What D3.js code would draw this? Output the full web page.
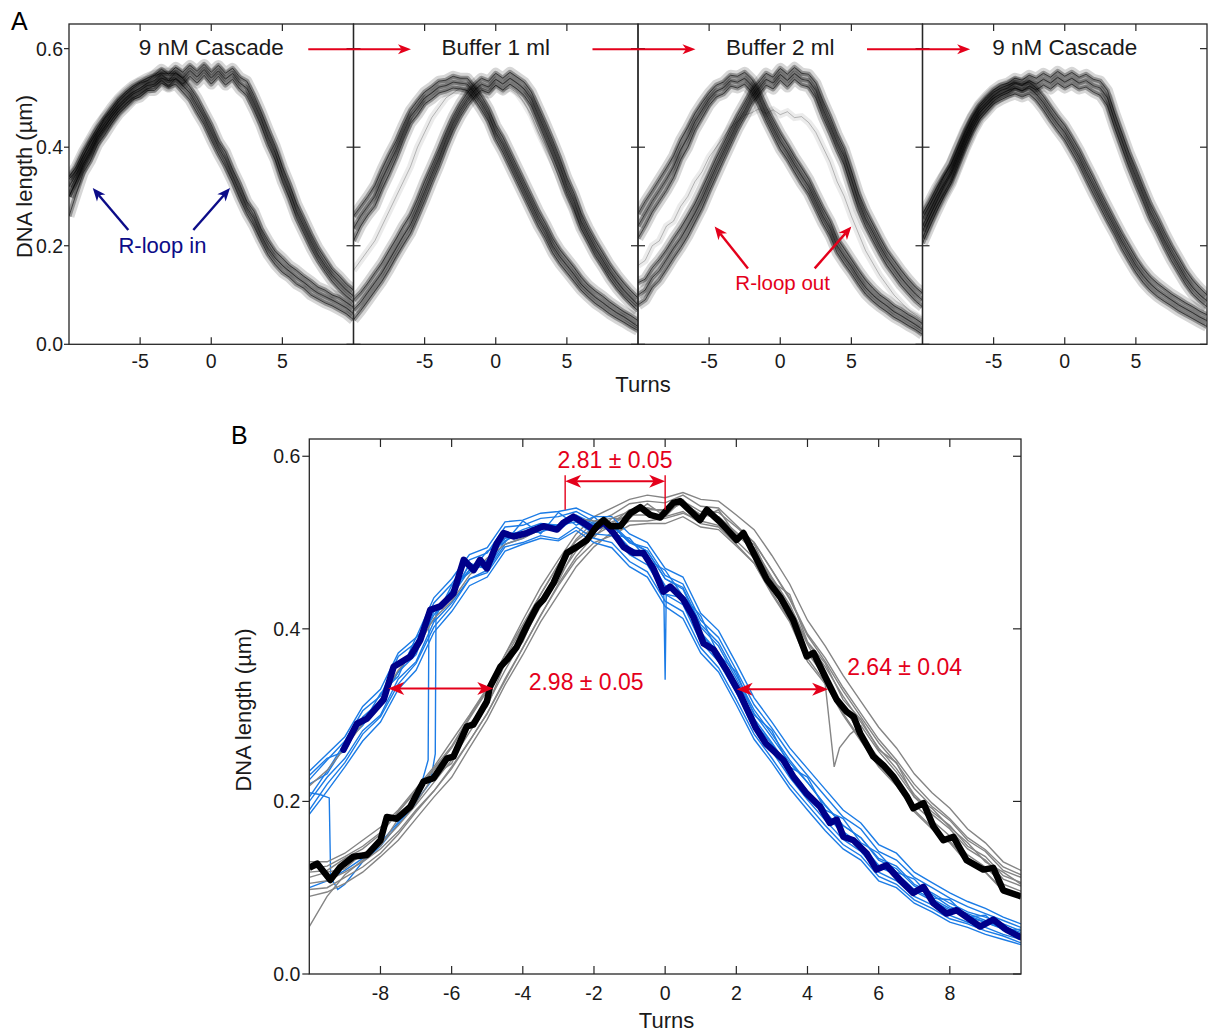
<!DOCTYPE html>
<html><head><meta charset="utf-8">
<script src="https://cdn.jsdelivr.net/npm/d3@7"></script>
<style>body{margin:0;background:#fff}svg{display:block}</style>
</head><body><svg id="chart" width="1208" height="1032"></svg>
<script>
// ---------------- DATA ----------------
const turnsGrid = [-10,-9.5,-9,-8.5,-8,-7.5,-7,-6.5,-6,-5.5,-5,-4.5,-4,-3.5,-3,-2.5,-2,-1.5,-1,-0.5,0,0.5,1,1.5,2,2.5,3,3.5,4,4.5,5,5.5,6,6.5,7,7.5,8,8.5,9,9.5,10];

const panelATitles = ["9 nM Cascade","Buffer 1 ml","Buffer 2 ml","9 nM Cascade"];
const panelAXTicks = [-5,0,5];
const panelAXTickLabels = ["-5","0","5"];
const panelAYTicks = [0,0.2,0.4,0.6];
const panelAYTickLabels = ["0.0","0.2","0.4","0.6"];
const panelBXTicks = [-8,-6,-4,-2,0,2,4,6,8];
const panelBXTickLabels = ["-8","-6","-4","-2","0","2","4","6","8"];
const panelBYTicks = [0,0.2,0.4,0.6];
const panelBYTickLabels = ["0.0","0.2","0.4","0.6"];

// Panel A, subplot 1 (9 nM Cascade)
const a1LoopTraces = [
 [0.335,0.352,0.382,0.41,0.432,0.458,0.474,0.494,0.508,0.52,0.53,0.535,0.545,0.55,0.55,0.55,0.54,0.522,0.5,0.472,0.445,0.412,0.39,0.355,0.325,0.29,0.27,0.235,0.21,0.188,0.175,0.16,0.15,0.138,0.128,0.116,0.11,0.1,0.095,0.085,0.075],
 [0.300,0.330,0.365,0.390,0.420,0.440,0.462,0.480,0.495,0.508,0.515,0.525,0.528,0.540,0.535,0.538,0.525,0.510,0.485,0.460,0.430,0.400,0.375,0.342,0.310,0.278,0.255,0.222,0.195,0.175,0.160,0.148,0.136,0.126,0.114,0.104,0.097,0.090,0.082,0.074,0.062],
 [0.26,0.305,0.348,0.372,0.405,0.425,0.448,0.468,0.482,0.497,0.502,0.515,0.515,0.53,0.522,0.528,0.512,0.496,0.47,0.446,0.415,0.386,0.36,0.33,0.296,0.265,0.24,0.21,0.182,0.162,0.146,0.136,0.122,0.114,0.1,0.092,0.084,0.078,0.07,0.062,0.05]
];
const a1FreeTraces = [
 [0.34,0.36,0.39,0.415,0.44,0.46,0.48,0.498,0.512,0.524,0.532,0.54,0.546,0.558,0.548,0.562,0.552,0.566,0.554,0.568,0.552,0.566,0.55,0.56,0.542,0.534,0.505,0.472,0.436,0.402,0.36,0.325,0.285,0.255,0.224,0.196,0.174,0.152,0.138,0.122,0.11],
 [0.32,0.345,0.375,0.40,0.428,0.448,0.468,0.486,0.50,0.512,0.52,0.53,0.535,0.548,0.535,0.552,0.54,0.556,0.542,0.558,0.54,0.555,0.538,0.55,0.53,0.52,0.49,0.458,0.42,0.388,0.345,0.31,0.27,0.24,0.21,0.182,0.16,0.14,0.125,0.11,0.098],
 [0.3,0.33,0.36,0.386,0.415,0.436,0.455,0.474,0.488,0.5,0.508,0.518,0.524,0.536,0.524,0.54,0.528,0.544,0.53,0.546,0.528,0.544,0.526,0.538,0.518,0.505,0.476,0.444,0.405,0.374,0.33,0.296,0.256,0.226,0.196,0.17,0.148,0.128,0.112,0.098,0.086]
];
const a1ExtraTraces = [];

// Panel A, subplot 2 (Buffer 1 ml)
const a2LoopTraces = [
 [0.26,0.28,0.3,0.322,0.355,0.385,0.412,0.445,0.475,0.494,0.512,0.522,0.534,0.536,0.544,0.54,0.54,0.522,0.503,0.478,0.444,0.42,0.39,0.36,0.33,0.3,0.27,0.244,0.215,0.192,0.174,0.156,0.136,0.12,0.108,0.098,0.086,0.076,0.066,0.058,0.048],
 [0.235,0.26,0.28,0.3,0.335,0.365,0.395,0.43,0.462,0.48,0.5,0.51,0.522,0.525,0.532,0.53,0.528,0.51,0.49,0.465,0.43,0.405,0.375,0.345,0.315,0.285,0.255,0.23,0.2,0.178,0.16,0.142,0.122,0.108,0.095,0.085,0.074,0.064,0.056,0.046,0.036],
 [0.21,0.24,0.262,0.28,0.315,0.345,0.378,0.415,0.448,0.466,0.488,0.498,0.51,0.514,0.52,0.518,0.515,0.498,0.476,0.452,0.416,0.39,0.36,0.33,0.3,0.27,0.24,0.215,0.186,0.164,0.146,0.128,0.11,0.096,0.083,0.073,0.062,0.053,0.045,0.036,0.028]
];
const a2FreeTraces = [
 [0.09,0.105,0.124,0.145,0.165,0.19,0.214,0.24,0.262,0.294,0.33,0.362,0.395,0.43,0.462,0.488,0.51,0.527,0.54,0.534,0.55,0.54,0.552,0.542,0.532,0.512,0.48,0.448,0.414,0.378,0.338,0.306,0.266,0.236,0.21,0.186,0.162,0.142,0.124,0.108,0.094],
 [0.07,0.085,0.105,0.125,0.145,0.17,0.195,0.22,0.242,0.275,0.31,0.345,0.378,0.415,0.448,0.475,0.497,0.515,0.528,0.522,0.538,0.528,0.54,0.53,0.518,0.498,0.465,0.432,0.398,0.362,0.322,0.29,0.25,0.222,0.195,0.172,0.148,0.128,0.11,0.095,0.08],
 [0.05,0.068,0.088,0.108,0.128,0.152,0.178,0.202,0.225,0.258,0.292,0.328,0.362,0.4,0.434,0.462,0.485,0.503,0.516,0.51,0.526,0.516,0.528,0.518,0.505,0.484,0.45,0.416,0.382,0.346,0.306,0.274,0.235,0.208,0.18,0.158,0.134,0.114,0.097,0.082,0.068]
];
const a2ExtraTraces = [
 [0.15,0.17,0.19,0.21,0.24,0.27,0.3,0.33,0.36,0.4,0.43,0.46,0.48,0.5,0.51,0.52,0.515,0.52,0.52,0.515,0.525,0.515,0.52,0.51,0.49,0.465,0.43,0.4,0.37,0.335,0.3,0.27,0.235,0.21,0.185,0.16,0.14,0.12,0.1,0.088,0.075]
];

// Panel A, subplot 3 (Buffer 2 ml)
const a3LoopTraces = [
 [0.265,0.29,0.312,0.335,0.358,0.382,0.415,0.44,0.468,0.49,0.51,0.526,0.532,0.546,0.544,0.552,0.538,0.514,0.482,0.455,0.428,0.405,0.38,0.358,0.335,0.305,0.276,0.25,0.215,0.194,0.172,0.15,0.13,0.114,0.1,0.09,0.078,0.07,0.06,0.052,0.042],
 [0.24,0.265,0.29,0.312,0.335,0.36,0.395,0.42,0.452,0.475,0.498,0.514,0.52,0.535,0.532,0.54,0.525,0.5,0.468,0.44,0.412,0.39,0.365,0.342,0.32,0.29,0.26,0.235,0.2,0.178,0.158,0.135,0.115,0.1,0.088,0.078,0.066,0.058,0.049,0.04,0.03],
 [0.215,0.24,0.268,0.29,0.312,0.338,0.375,0.4,0.435,0.46,0.485,0.502,0.508,0.524,0.52,0.528,0.512,0.486,0.454,0.425,0.396,0.375,0.35,0.326,0.305,0.275,0.245,0.22,0.186,0.164,0.144,0.122,0.102,0.088,0.076,0.066,0.055,0.047,0.038,0.03,0.02]
];
const a3FreeTraces = [
 [0.125,0.132,0.155,0.172,0.192,0.215,0.236,0.26,0.285,0.315,0.346,0.378,0.406,0.436,0.465,0.49,0.516,0.532,0.55,0.542,0.56,0.548,0.562,0.55,0.548,0.53,0.494,0.462,0.426,0.396,0.352,0.306,0.272,0.244,0.216,0.19,0.17,0.15,0.132,0.116,0.104],
 [0.1,0.11,0.135,0.15,0.172,0.195,0.215,0.24,0.266,0.295,0.328,0.36,0.39,0.42,0.45,0.475,0.503,0.52,0.538,0.53,0.548,0.535,0.55,0.538,0.535,0.515,0.478,0.445,0.41,0.38,0.335,0.29,0.255,0.228,0.2,0.175,0.155,0.135,0.118,0.102,0.09],
 [0.08,0.09,0.115,0.13,0.152,0.175,0.196,0.22,0.248,0.276,0.31,0.342,0.374,0.405,0.436,0.462,0.49,0.508,0.526,0.518,0.536,0.522,0.538,0.526,0.522,0.5,0.462,0.43,0.395,0.364,0.318,0.274,0.24,0.212,0.185,0.16,0.14,0.12,0.104,0.088,0.076]
];
const a3ExtraTraces = [
 [0.16,0.17,0.2,0.21,0.24,0.25,0.28,0.3,0.33,0.35,0.38,0.4,0.42,0.44,0.452,0.465,0.47,0.478,0.468,0.476,0.466,0.472,0.46,0.462,0.45,0.43,0.4,0.37,0.33,0.3,0.26,0.225,0.19,0.165,0.14,0.12,0.1,0.085,0.07,0.06,0.05]
];

// Panel A, subplot 4 (9 nM Cascade)
const a4LoopTraces = [
 [0.255,0.282,0.31,0.34,0.364,0.398,0.43,0.46,0.482,0.498,0.512,0.52,0.526,0.532,0.528,0.532,0.52,0.503,0.482,0.462,0.444,0.42,0.395,0.366,0.338,0.308,0.28,0.252,0.225,0.2,0.175,0.154,0.137,0.124,0.113,0.102,0.093,0.084,0.076,0.067,0.06],
 [0.23,0.26,0.29,0.32,0.345,0.38,0.415,0.445,0.47,0.485,0.5,0.508,0.515,0.52,0.515,0.52,0.508,0.49,0.468,0.448,0.43,0.405,0.38,0.35,0.322,0.293,0.265,0.238,0.21,0.185,0.16,0.14,0.123,0.11,0.1,0.09,0.08,0.072,0.064,0.055,0.048],
 [0.205,0.238,0.27,0.3,0.326,0.362,0.398,0.43,0.456,0.472,0.488,0.496,0.503,0.508,0.502,0.508,0.495,0.476,0.454,0.434,0.415,0.39,0.365,0.335,0.306,0.278,0.25,0.224,0.195,0.17,0.146,0.126,0.11,0.097,0.087,0.078,0.068,0.06,0.052,0.044,0.036]
];
const a4FreeTraces = [
 [0.265,0.29,0.318,0.342,0.366,0.4,0.434,0.462,0.486,0.502,0.516,0.526,0.53,0.54,0.536,0.546,0.54,0.55,0.542,0.554,0.544,0.552,0.542,0.548,0.538,0.534,0.515,0.47,0.43,0.39,0.356,0.32,0.286,0.258,0.228,0.2,0.175,0.15,0.13,0.114,0.1],
 [0.24,0.27,0.3,0.325,0.35,0.385,0.42,0.45,0.475,0.49,0.505,0.515,0.52,0.53,0.525,0.535,0.528,0.538,0.53,0.542,0.532,0.54,0.53,0.535,0.525,0.52,0.5,0.455,0.415,0.375,0.34,0.305,0.27,0.242,0.212,0.185,0.16,0.135,0.115,0.1,0.088],
 [0.215,0.25,0.28,0.306,0.332,0.368,0.404,0.436,0.462,0.478,0.494,0.504,0.51,0.52,0.514,0.524,0.516,0.526,0.518,0.53,0.52,0.528,0.518,0.522,0.512,0.505,0.484,0.44,0.4,0.36,0.324,0.29,0.255,0.228,0.198,0.17,0.146,0.122,0.102,0.088,0.076]
];
const a4ExtraTraces = [];

// Panel B: individual traces without R-loop (grey), on turnsGrid
const bGreyTraces = [
 [0.122,0.125,0.136,0.148,0.164,0.188,0.212,0.236,0.262,0.296,0.328,0.366,0.402,0.44,0.474,0.504,0.524,0.532,0.545,0.548,0.546,0.555,0.542,0.54,0.52,0.5,0.468,0.434,0.392,0.362,0.328,0.298,0.268,0.244,0.215,0.194,0.178,0.155,0.142,0.12,0.112],
 [0.098,0.1,0.112,0.124,0.14,0.162,0.188,0.212,0.238,0.27,0.302,0.342,0.378,0.416,0.45,0.48,0.5,0.508,0.52,0.522,0.522,0.53,0.518,0.515,0.496,0.476,0.442,0.41,0.366,0.338,0.302,0.272,0.242,0.22,0.19,0.17,0.154,0.13,0.118,0.096,0.088],
 [0.105,0.108,0.118,0.13,0.145,0.165,0.19,0.212,0.24,0.27,0.302,0.34,0.378,0.415,0.452,0.484,0.508,0.52,0.535,0.538,0.538,0.548,0.536,0.535,0.518,0.5,0.468,0.436,0.394,0.366,0.332,0.302,0.272,0.248,0.22,0.198,0.18,0.158,0.144,0.124,0.115],
 [0.118,0.12,0.134,0.145,0.162,0.188,0.212,0.238,0.264,0.298,0.33,0.37,0.405,0.44,0.475,0.502,0.518,0.524,0.532,0.532,0.53,0.536,0.522,0.518,0.498,0.476,0.44,0.408,0.362,0.336,0.3,0.27,0.24,0.218,0.188,0.168,0.152,0.128,0.118,0.098,0.09],
 [0.055,0.09,0.115,0.132,0.15,0.172,0.196,0.222,0.248,0.28,0.312,0.352,0.388,0.426,0.46,0.49,0.514,0.522,0.538,0.54,0.536,0.546,0.532,0.53,0.512,0.494,0.46,0.428,0.384,0.356,0.322,0.292,0.262,0.238,0.208,0.188,0.172,0.148,0.136,0.114,0.106],
 [0.13,0.13,0.14,0.155,0.17,0.19,0.215,0.24,0.27,0.3,0.332,0.37,0.41,0.448,0.48,0.51,0.53,0.54,0.55,0.555,0.552,0.558,0.55,0.548,0.532,0.515,0.485,0.452,0.41,0.38,0.346,0.316,0.286,0.262,0.232,0.21,0.192,0.168,0.152,0.13,0.12],
 [0.09,0.095,0.105,0.118,0.136,0.155,0.18,0.205,0.228,0.262,0.295,0.335,0.37,0.408,0.44,0.472,0.495,0.512,0.525,0.525,0.528,0.534,0.525,0.52,0.502,0.482,0.45,0.415,0.372,0.344,0.31,0.278,0.25,0.226,0.196,0.178,0.16,0.138,0.124,0.104,0.096],
 [0.112,0.118,0.122,0.14,0.148,0.18,0.198,0.23,0.244,0.29,0.31,0.36,0.385,0.432,0.455,0.496,0.506,0.528,0.528,0.545,0.53,0.55,0.528,0.538,0.508,0.498,0.455,0.44,0.385,0.36,0.318,0.295,0.26,0.245,0.205,0.192,0.17,0.152,0.13,0.118,0.104]
];
// Panel B: individual traces with R-loop (blue), on turnsGrid
const bBlueTraces = [
 [0.225,0.248,0.27,0.305,0.322,0.368,0.384,0.43,0.452,0.48,0.488,0.518,0.52,0.528,0.53,0.536,0.524,0.522,0.502,0.49,0.458,0.446,0.402,0.38,0.342,0.302,0.274,0.245,0.222,0.195,0.172,0.158,0.134,0.125,0.104,0.094,0.082,0.072,0.066,0.058,0.05],
 [0.2,0.228,0.25,0.282,0.3,0.342,0.362,0.408,0.43,0.458,0.465,0.495,0.5,0.508,0.504,0.518,0.505,0.5,0.478,0.466,0.432,0.42,0.378,0.355,0.318,0.278,0.25,0.22,0.196,0.172,0.15,0.137,0.113,0.104,0.086,0.076,0.064,0.058,0.05,0.044,0.036],
 [0.23,0.25,0.258,0.298,0.316,0.35,0.38,0.416,0.445,0.468,0.48,0.505,0.515,0.522,0.52,0.532,0.522,0.52,0.5,0.494,0.462,0.452,0.41,0.39,0.352,0.312,0.285,0.255,0.23,0.206,0.182,0.168,0.142,0.132,0.112,0.1,0.088,0.078,0.07,0.062,0.054],
 [0.205,0.235,0.268,0.288,0.318,0.35,0.37,0.425,0.435,0.476,0.47,0.502,0.512,0.512,0.52,0.524,0.51,0.508,0.486,0.474,0.44,0.428,0.385,0.362,0.326,0.284,0.258,0.228,0.202,0.178,0.156,0.142,0.118,0.108,0.09,0.08,0.068,0.06,0.054,0.046,0.04],
 [0.19,0.22,0.245,0.278,0.298,0.336,0.36,0.402,0.426,0.458,0.468,0.498,0.505,0.516,0.514,0.53,0.52,0.52,0.5,0.49,0.458,0.448,0.405,0.384,0.346,0.306,0.278,0.248,0.222,0.196,0.172,0.158,0.132,0.122,0.102,0.092,0.078,0.07,0.062,0.055,0.048],
 [0.235,0.255,0.275,0.31,0.33,0.372,0.39,0.436,0.458,0.486,0.494,0.524,0.526,0.534,0.536,0.54,0.53,0.53,0.51,0.5,0.47,0.46,0.418,0.398,0.36,0.32,0.292,0.262,0.238,0.214,0.19,0.175,0.15,0.14,0.118,0.106,0.094,0.084,0.076,0.066,0.058],
 [0.185,0.212,0.24,0.27,0.292,0.33,0.352,0.396,0.42,0.45,0.46,0.49,0.498,0.505,0.502,0.514,0.5,0.494,0.472,0.46,0.426,0.412,0.372,0.35,0.312,0.272,0.245,0.215,0.19,0.166,0.145,0.132,0.108,0.1,0.082,0.072,0.06,0.054,0.046,0.04,0.034],
 [0.22,0.232,0.265,0.29,0.325,0.345,0.39,0.41,0.45,0.465,0.49,0.5,0.525,0.51,0.535,0.52,0.53,0.51,0.505,0.48,0.468,0.438,0.415,0.37,0.35,0.3,0.282,0.24,0.228,0.19,0.18,0.152,0.14,0.118,0.11,0.088,0.086,0.066,0.068,0.05,0.052]
];
// Panel B: irregular traces as [turns, length] pairs
const bBlueJumpTraceA = [[-10,0.21],[-9.7,0.208],[-9.44,0.204],[-9.4,0.112],[-9.2,0.098],[-9,0.104],[-8.5,0.13],[-8,0.148],[-7.5,0.174],[-7,0.198],[-6.66,0.248],[-6.64,0.405],[-6.5,0.42],[-6,0.438],[-5.5,0.468],[-5,0.478],[-4.5,0.505],[-4,0.508],[-3.5,0.52],[-3,0.518],[-2.5,0.53],[-2,0.518],[-1.5,0.516],[-1,0.494],[-0.5,0.484],[0,0.45],[0.5,0.438],[1,0.396],[1.5,0.372],[2,0.336],[2.5,0.296],[3,0.268],[3.5,0.238],[4,0.212],[4.5,0.188],[5,0.165],[5.5,0.15],[6,0.126],[6.5,0.117],[7,0.098],[7.5,0.087],[8,0.076],[8.5,0.068],[9,0.06],[9.5,0.053],[10,0.046]];
const bBlueJumpTraceB = [[-10,0.1],[-9.5,0.108],[-9,0.12],[-8.5,0.134],[-8,0.152],[-7.5,0.176],[-7,0.2],[-6.6,0.222],[-6.46,0.255],[-6.44,0.418],[-6,0.44],[-5.5,0.474],[-5,0.47],[-4.5,0.51],[-4,0.512],[-3.5,0.52],[-3,0.52],[-2.5,0.53],[-2,0.52],[-1.5,0.516],[-1,0.49],[-0.5,0.482],[-0.04,0.446],[0,0.341],[0.03,0.44],[0.5,0.436],[1,0.394],[1.5,0.372],[2,0.332],[2.5,0.292],[3,0.266],[3.5,0.236],[4,0.21],[4.5,0.186],[5,0.162],[5.5,0.148],[6,0.124],[6.5,0.115],[7,0.096],[7.5,0.085],[8,0.074],[8.5,0.066],[9,0.06],[9.5,0.052],[10,0.045]];
const bGreyLoopTrace = [[-10,0.218],[-9.5,0.236],[-9,0.262],[-8.5,0.29],[-8,0.318],[-7.5,0.352],[-7,0.376],[-6.5,0.412],[-6,0.432],[-5.5,0.462],[-5,0.482],[-4.5,0.498],[-4,0.505],[-3.5,0.515],[-3,0.518],[-2.5,0.528],[-2,0.525],[-1.5,0.528],[-1,0.536],[-0.5,0.54],[0,0.536],[0.5,0.546],[1,0.532],[1.5,0.53],[2,0.51],[2.5,0.49],[3,0.458],[3.5,0.425],[4,0.382],[4.3,0.36],[4.5,0.335],[4.75,0.24],[4.9,0.262],[5.2,0.278],[5.5,0.288],[6,0.258],[6.5,0.234],[7,0.205],[7.5,0.185],[8,0.168],[8.5,0.145],[9,0.132],[9.5,0.11],[10,0.102]];
// Panel B: averaged traces as [turns, length] pairs
const bGreyMean = [[-10,0.123],[-9.78,0.128],[-9.41,0.109],[-9.13,0.124],[-8.76,0.136],[-8.38,0.138],[-8.0,0.155],[-7.82,0.182],[-7.54,0.18],[-7.16,0.194],[-6.79,0.223],[-6.51,0.227],[-6.13,0.25],[-5.95,0.252],[-5.57,0.287],[-5.39,0.289],[-5.01,0.316],[-4.92,0.333],[-4.63,0.356],[-4.45,0.364],[-4.17,0.379],[-3.89,0.403],[-3.6,0.426],[-3.42,0.434],[-3.14,0.453],[-2.76,0.488],[-2.48,0.495],[-2.2,0.503],[-1.92,0.519],[-1.73,0.526],[-1.54,0.519],[-1.26,0.519],[-0.98,0.534],[-0.7,0.541],[-0.42,0.532],[-0.14,0.529],[0.23,0.546],[0.42,0.548],[0.98,0.526],[1.17,0.538],[1.54,0.524],[2.01,0.503],[2.2,0.511],[2.58,0.48],[2.86,0.457],[3.23,0.437],[3.6,0.41],[3.98,0.368],[4.17,0.372],[4.54,0.341],[4.82,0.318],[5.1,0.304],[5.3,0.298],[5.48,0.279],[5.85,0.252],[6.13,0.242],[6.41,0.229],[6.79,0.206],[6.97,0.192],[7.26,0.198],[7.54,0.171],[7.82,0.155],[8.1,0.159],[8.47,0.132],[8.94,0.121],[9.22,0.123],[9.5,0.097],[10,0.09]];
const bBlueMean = [[-9.04,0.26],[-8.66,0.29],[-8.38,0.296],[-7.91,0.318],[-7.63,0.356],[-7.16,0.368],[-6.88,0.387],[-6.6,0.422],[-6.32,0.426],[-5.95,0.441],[-5.66,0.48],[-5.38,0.468],[-5.2,0.48],[-5.01,0.47],[-4.73,0.499],[-4.54,0.511],[-4.26,0.507],[-3.89,0.511],[-3.42,0.519],[-3.04,0.515],[-2.86,0.523],[-2.58,0.53],[-2.3,0.523],[-2.01,0.515],[-1.73,0.524],[-1.45,0.511],[-1.17,0.495],[-0.89,0.488],[-0.61,0.488],[-0.33,0.47],[-0.05,0.443],[0.14,0.449],[0.51,0.434],[0.79,0.414],[1.08,0.383],[1.36,0.376],[1.73,0.352],[2.11,0.324],[2.55,0.285],[2.83,0.267],[3.32,0.248],[3.6,0.229],[3.98,0.209],[4.35,0.194],[4.63,0.175],[4.82,0.179],[5.01,0.159],[5.29,0.155],[5.66,0.14],[5.94,0.121],[6.22,0.126],[6.6,0.109],[6.97,0.094],[7.26,0.101],[7.54,0.082],[7.91,0.07],[8.19,0.074],[8.57,0.063],[8.85,0.055],[9.22,0.063],[9.6,0.051],[9.97,0.043]];

// Annotations (data coordinates)
const bShiftLabels = ["2.81 ± 0.05","2.98 ± 0.05","2.64 ± 0.04"];
const bShiftArrows = [ // [t1, t2, value, label t, label value]
 [-2.81, 0, 0.571, -1.41, 0.586],
 [-7.78, -4.83, 0.331, -2.22, 0.329],
 [2.01, 4.58, 0.330, 6.73, 0.3465]
];
const bShiftBars = [[-2.81, 0.538, 0.578],[0, 0.538, 0.578]];

// ---------------- DRAWING ----------------
const FONT = '"Liberation Sans", Arial, Helvetica, sans-serif';
const RED = "#e4001b", NAVY = "#0c0c88", AXIS = "#262626";
const svg = d3.select("#chart");
const defs = svg.append("defs");

function txt(g, x, y, s, size, anchor, color) {
  return g.append("text").attr("x", x).attr("y", y).text(s)
    .attr("font-family", FONT).attr("font-size", size)
    .attr("text-anchor", anchor || "middle").attr("fill", color || "#1a1a1a");
}
function arrowHead(g, x1, y1, x2, y2, L, W, color) {
  const dx = x2 - x1, dy = y2 - y1, len = Math.hypot(dx, dy);
  const ux = dx / len, uy = dy / len, nx = -uy, ny = ux;
  const p = [[x2, y2],
    [x2 - L * ux + W / 2 * nx, y2 - L * uy + W / 2 * ny],
    [x2 - 0.72 * L * ux, y2 - 0.72 * L * uy],
    [x2 - L * ux - W / 2 * nx, y2 - L * uy - W / 2 * ny]];
  g.append("path").attr("d", "M" + p.map(q => q.join(",")).join("L") + "Z").attr("fill", color);
}
function arrow(g, x1, y1, x2, y2, L, W, color, sw, both) {
  const dx = x2 - x1, dy = y2 - y1, len = Math.hypot(dx, dy);
  const ux = dx / len, uy = dy / len;
  const s = both ? 0.7 * L : 0;
  g.append("line").attr("x1", x1 + s * ux).attr("y1", y1 + s * uy)
    .attr("x2", x2 - 0.7 * L * ux).attr("y2", y2 - 0.7 * L * uy)
    .attr("stroke", color).attr("stroke-width", sw);
  arrowHead(g, x1, y1, x2, y2, L, W, color);
  if (both) arrowHead(g, x2, y2, x1, y1, L, W, color);
}

// ----- Panel A -----
const aTop = 24, aBottom = 344.3, aWidth = 284.5;
const aLefts = [69, 353.5, 638, 922.5];
const yA = d3.scaleLinear().domain([0, 0.65]).range([aBottom, aTop]);
const xAs = aLefts.map(l => d3.scaleLinear().domain([-10, 10]).range([l, l + aWidth]));
const aBundles = [
  [a1LoopTraces, a1FreeTraces, a1ExtraTraces],
  [a2LoopTraces, a2FreeTraces, a2ExtraTraces],
  [a3LoopTraces, a3FreeTraces, a3ExtraTraces],
  [a4LoopTraces, a4FreeTraces, a4ExtraTraces]
];

aLefts.forEach((L, k) => {
  const x = xAs[k];
  defs.append("clipPath").attr("id", "clipA" + k).append("rect")
    .attr("x", L).attr("y", aTop).attr("width", aWidth).attr("height", aBottom - aTop);
  const g = svg.append("g").attr("clip-path", `url(#clipA${k})`);
  const line = d3.line().x((d, i) => x(turnsGrid[i])).y(d => yA(d)).curve(d3.curveLinear);
  const [loop, free, extra] = aBundles[k];
  extra.forEach(tr => {
    g.append("path").attr("d", line(tr)).attr("fill", "none")
      .attr("stroke", "#000").attr("stroke-opacity", 0.08).attr("stroke-width", 7);
    g.append("path").attr("d", line(tr)).attr("fill", "none")
      .attr("stroke", "#000").attr("stroke-opacity", 0.3).attr("stroke-width", 0.8);
  });
  [loop, free].forEach(bundle => {
    bundle.forEach(tr => {
      g.append("path").attr("d", line(tr)).attr("fill", "none").attr("stroke-linejoin", "round")
        .attr("stroke", "#000").attr("stroke-opacity", 0.16).attr("stroke-width", 11);
    });
    bundle.forEach(tr => {
      g.append("path").attr("d", line(tr)).attr("fill", "none").attr("stroke-linejoin", "round")
        .attr("stroke", "#000").attr("stroke-opacity", 0.32).attr("stroke-width", 5);
    });
    bundle.forEach(tr => {
      g.append("path").attr("d", line(tr)).attr("fill", "none")
        .attr("stroke", "#000").attr("stroke-opacity", 0.55).attr("stroke-width", 1);
    });
  });

  // frame
  svg.append("rect").attr("x", L).attr("y", aTop).attr("width", aWidth).attr("height", aBottom - aTop)
    .attr("fill", "none").attr("stroke", AXIS).attr("stroke-width", 1.3);
  // x ticks
  panelAXTicks.forEach((t, i) => {
    svg.append("line").attr("x1", x(t)).attr("x2", x(t)).attr("y1", aBottom).attr("y2", aBottom - 7)
      .attr("stroke", AXIS).attr("stroke-width", 1.2);
    svg.append("line").attr("x1", x(t)).attr("x2", x(t)).attr("y1", aTop).attr("y2", aTop + 7)
      .attr("stroke", AXIS).attr("stroke-width", 1.2);
    txt(svg, x(t), aBottom + 24, panelAXTickLabels[i], 19.5);
  });
  // y ticks
  panelAYTicks.forEach((v, i) => {
    const y = yA(v);
    if (k === 0) {
      svg.append("line").attr("x1", L - 5).attr("x2", L).attr("y1", y).attr("y2", y)
        .attr("stroke", AXIS).attr("stroke-width", 1.2);
      txt(svg, L - 6, y + 7, panelAYTickLabels[i], 19.5, "end");
    } else {
      svg.append("line").attr("x1", L - 7).attr("x2", L + 7).attr("y1", y).attr("y2", y)
        .attr("stroke", AXIS).attr("stroke-width", 1.2);
    }
    if (k === 3) {
      svg.append("line").attr("x1", L + aWidth - 7).attr("x2", L + aWidth).attr("y1", y).attr("y2", y)
        .attr("stroke", AXIS).attr("stroke-width", 1.2);
    }
  });
  // title
  txt(svg, x(0), 55, panelATitles[k], 22.5);
});

// arrows between titles (subplot index, turns) pairs at 0.6 µm
const aTitleArrows = [[0, 6.82, 1, -5.96], [1, 6.8, 2, -5.96], [2, 6.1, 3, -6.65]];
aTitleArrows.forEach(a => {
  arrow(svg, xAs[a[0]](a[1]), yA(0.6) + 0.7, xAs[a[2]](a[3]), yA(0.6) + 0.7, 13, 10, RED, 2, false);
});

// R-loop in (subplot 1)
[[-5.83, 0.232, -8.33, 0.317], [-1.26, 0.232, 1.32, 0.317]].forEach(a => {
  arrow(svg, xAs[0](a[0]), yA(a[1]), xAs[0](a[2]), yA(a[3]), 13, 11, NAVY, 2.4, false);
});
txt(svg, xAs[0](-3.43), yA(0.185), "R-loop in", 22, "middle", NAVY);
// R-loop out (subplot 3)
[[-2.27, 0.154, -4.61, 0.239], [2.42, 0.154, 5.0, 0.239]].forEach(a => {
  arrow(svg, xAs[2](a[0]), yA(a[1]), xAs[2](a[2]), yA(a[3]), 13, 11, RED, 2.4, false);
});
txt(svg, xAs[2](0.17), yA(0.11), "R-loop out", 20.5, "middle", RED);

// axis labels A
txt(svg, 643, 391.5, "Turns", 22);
txt(svg, 0, 0, "DNA length (µm)", 22).attr("transform", "translate(31.5,176.5) rotate(-90)");
txt(svg, 11, 30, "A", 25, "start", "#000");

// ----- Panel B -----
const bL = 309.3, bR = 1021, bT = 439, bB = 974;
const xB = d3.scaleLinear().domain([-10, 10]).range([bL, bR]);
const yB = d3.scaleLinear().domain([0, 0.62]).range([bB, bT]);
defs.append("clipPath").attr("id", "clipB").append("rect")
  .attr("x", bL).attr("y", bT).attr("width", bR - bL).attr("height", bB - bT);
const gB = svg.append("g").attr("clip-path", "url(#clipB)");
const gridLine = d3.line().x((d, i) => xB(turnsGrid[i])).y(d => yB(d));
const pairLine = d3.line().x(d => xB(d[0])).y(d => yB(d[1]));
const GREY = "#858585", BLUE = "#1c7ce6", DARKBLUE = "#00008a";

[bBlueJumpTraceA, bBlueJumpTraceB].forEach(tr => {
  gB.append("path").attr("d", pairLine(tr)).attr("fill", "none")
    .attr("stroke", BLUE).attr("stroke-width", 1.4);
});
bGreyTraces.forEach(tr => {
  gB.append("path").attr("d", gridLine(tr)).attr("fill", "none")
    .attr("stroke", GREY).attr("stroke-width", 1.4);
});
bBlueTraces.forEach(tr => {
  gB.append("path").attr("d", gridLine(tr)).attr("fill", "none")
    .attr("stroke", BLUE).attr("stroke-width", 1.4);
});
gB.append("path").attr("d", pairLine(bGreyLoopTrace)).attr("fill", "none")
  .attr("stroke", GREY).attr("stroke-width", 1.4);
gB.append("path").attr("d", pairLine(bBlueMean)).attr("fill", "none")
  .attr("stroke", DARKBLUE).attr("stroke-width", 6.5).attr("stroke-linejoin", "round").attr("stroke-linecap", "round");
gB.append("path").attr("d", pairLine(bGreyMean)).attr("fill", "none")
  .attr("stroke", "#000").attr("stroke-width", 6.5).attr("stroke-linejoin", "round");

// frame B
svg.append("rect").attr("x", bL).attr("y", bT).attr("width", bR - bL).attr("height", bB - bT)
  .attr("fill", "none").attr("stroke", AXIS).attr("stroke-width", 1.3);
panelBXTicks.forEach((t, i) => {
  svg.append("line").attr("x1", xB(t)).attr("x2", xB(t)).attr("y1", bB).attr("y2", bB - 8)
    .attr("stroke", AXIS).attr("stroke-width", 1.2);
  svg.append("line").attr("x1", xB(t)).attr("x2", xB(t)).attr("y1", bT).attr("y2", bT + 8)
    .attr("stroke", AXIS).attr("stroke-width", 1.2);
  txt(svg, xB(t), bB + 26, panelBXTickLabels[i], 19.5);
});
panelBYTicks.forEach((v, i) => {
  svg.append("line").attr("x1", bL - 7).attr("x2", bL).attr("y1", yB(v)).attr("y2", yB(v))
    .attr("stroke", AXIS).attr("stroke-width", 1.2);
  svg.append("line").attr("x1", bR - 8).attr("x2", bR).attr("y1", yB(v)).attr("y2", yB(v))
    .attr("stroke", AXIS).attr("stroke-width", 1.2);
  txt(svg, bL - 9, yB(v) + 7, panelBYTickLabels[i], 19.5, "end");
});

// shift annotations
bShiftBars.forEach(b => {
  svg.append("line").attr("x1", xB(b[0])).attr("x2", xB(b[0])).attr("y1", yB(b[1])).attr("y2", yB(b[2]))
    .attr("stroke", RED).attr("stroke-width", 1.4);
});
bShiftArrows.forEach((a, i) => {
  arrow(svg, xB(a[0]), yB(a[2]), xB(a[1]), yB(a[2]), 16, 13, RED, 2, true);
  txt(svg, xB(a[3]), yB(a[4]), bShiftLabels[i], 23, "middle", RED);
});

txt(svg, 666.5, 1028, "Turns", 22);
txt(svg, 0, 0, "DNA length (µm)", 22).attr("transform", "translate(250.5,710) rotate(-90)");
txt(svg, 231, 444, "B", 25, "start", "#000");
</script>
</body></html>
